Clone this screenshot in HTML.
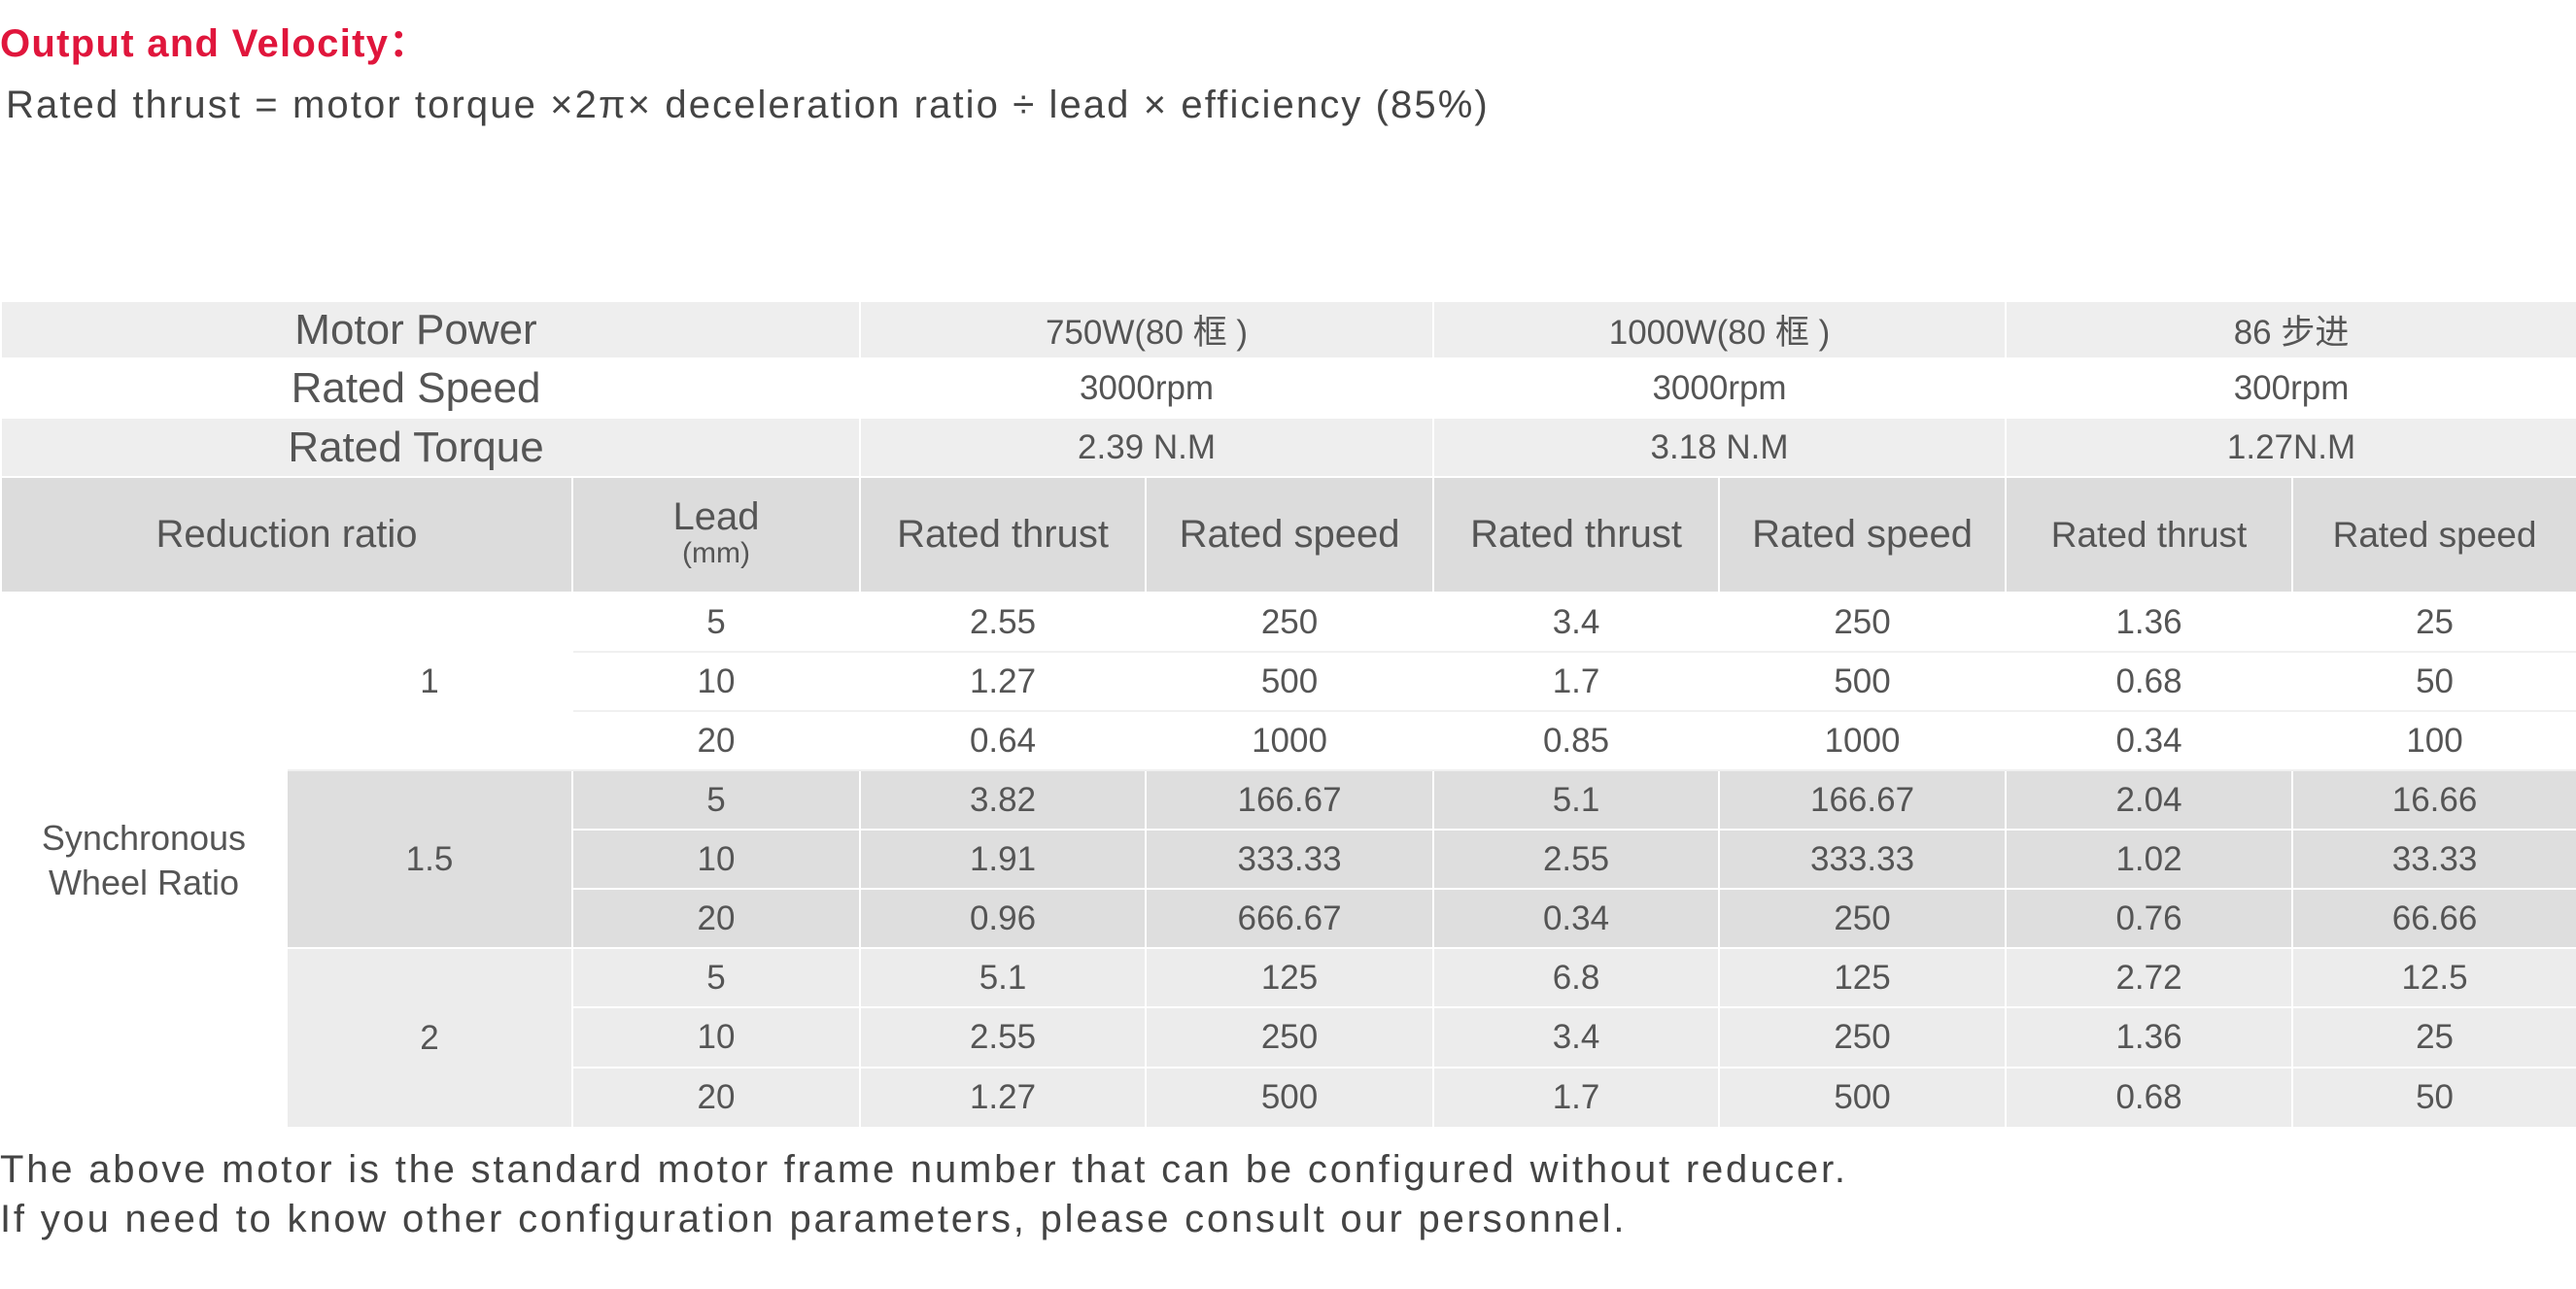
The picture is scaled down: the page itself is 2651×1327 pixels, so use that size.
<!DOCTYPE html>
<html><head><meta charset="utf-8"><style>
body{margin:0;width:2651px;height:1327px;background:#fff;overflow:hidden;font-family:"Liberation Sans","Noto Sans CJK SC",sans-serif;color:#555;position:relative}
.t1{position:absolute;left:0;top:12px;font-size:40px;font-weight:bold;color:#e0163c;letter-spacing:1.3px}
.t2{position:absolute;left:6px;top:86px;font-size:40px;color:#444;letter-spacing:2.1px}
.f{position:absolute;left:0;font-size:40px;color:#444;letter-spacing:2.8px}
table{position:absolute;left:0;top:309px;border-collapse:collapse;table-layout:fixed;width:2651px}
td{border:2px solid #fff;text-align:center;padding:0;font-size:35px;color:#555}
.g1{background:#eeeeee}.g2{background:#fff}.h{background:#dcdcdc;font-size:40px}
.a{background:#fff}.a td{border-bottom-color:#f0f0f0}.b{background:#dedede}.c{background:#ececec}
.big{font-size:44px}
</style></head><body>
<div class="t1">Output and Velocity：</div>
<div class="t2">Rated thrust = motor torque ×2π× deceleration ratio ÷ lead × efficiency (85%)</div>
<table>
<colgroup><col style="width:294px"><col style="width:294px"><col style="width:296px"><col style="width:294px"><col style="width:296px"><col style="width:294px"><col style="width:295px"><col style="width:295px"><col style="width:293px"></colgroup>
<tr style="height:59px" class="g1"><td colspan="3" class="big" style="padding-right:30px">Motor Power</td><td colspan="2">750W(80 框 )</td><td colspan="2">1000W(80 框 )</td><td colspan="2">86 步进</td></tr>
<tr style="height:61px" class="g2"><td colspan="3" class="big" style="padding-right:30px">Rated Speed</td><td colspan="2">3000rpm</td><td colspan="2">3000rpm</td><td colspan="2">300rpm</td></tr>
<tr style="height:61px" class="g1"><td colspan="3" class="big" style="padding-right:30px">Rated Torque</td><td colspan="2">2.39 N.M</td><td colspan="2">3.18 N.M</td><td colspan="2">1.27N.M</td></tr>
<tr style="height:119px" class="h"><td colspan="2" class="h">Reduction ratio</td><td class="h" style="line-height:34px">Lead<br><span style="font-size:30px">(mm)</span></td><td class="h">Rated thrust</td><td class="h">Rated speed</td><td class="h">Rated thrust</td><td class="h">Rated speed</td><td class="h" style="font-size:37px">Rated thrust</td><td class="h" style="font-size:37px">Rated speed</td></tr>
<tr style="height:61px" class="a"><td rowspan="9" style="background:#fff;border-color:#fff;font-size:36px;line-height:46px">Synchronous<br>Wheel Ratio</td><td rowspan="3">1</td><td>5</td><td>2.55</td><td>250</td><td>3.4</td><td>250</td><td>1.36</td><td>25</td></tr>
<tr style="height:61px" class="a"><td>10</td><td>1.27</td><td>500</td><td>1.7</td><td>500</td><td>0.68</td><td>50</td></tr>
<tr style="height:61px" class="a"><td>20</td><td>0.64</td><td>1000</td><td>0.85</td><td>1000</td><td>0.34</td><td>100</td></tr>
<tr style="height:61px" class="b"><td rowspan="3">1.5</td><td>5</td><td>3.82</td><td>166.67</td><td>5.1</td><td>166.67</td><td>2.04</td><td>16.66</td></tr>
<tr style="height:61px" class="b"><td>10</td><td>1.91</td><td>333.33</td><td>2.55</td><td>333.33</td><td>1.02</td><td>33.33</td></tr>
<tr style="height:61px" class="b"><td>20</td><td>0.96</td><td>666.67</td><td>0.34</td><td>250</td><td>0.76</td><td>66.66</td></tr>
<tr style="height:61px" class="c"><td rowspan="3">2</td><td>5</td><td>5.1</td><td>125</td><td>6.8</td><td>125</td><td>2.72</td><td>12.5</td></tr>
<tr style="height:62px" class="c"><td>10</td><td>2.55</td><td>250</td><td>3.4</td><td>250</td><td>1.36</td><td>25</td></tr>
<tr style="height:62px" class="c"><td>20</td><td>1.27</td><td>500</td><td>1.7</td><td>500</td><td>0.68</td><td>50</td></tr>
</table>
<div class="f" style="top:1182px">The above motor is the standard motor frame number that can be configured without reducer.</div>
<div class="f" style="top:1233px">If you need to know other configuration parameters, please consult our personnel.</div>
</body></html>
